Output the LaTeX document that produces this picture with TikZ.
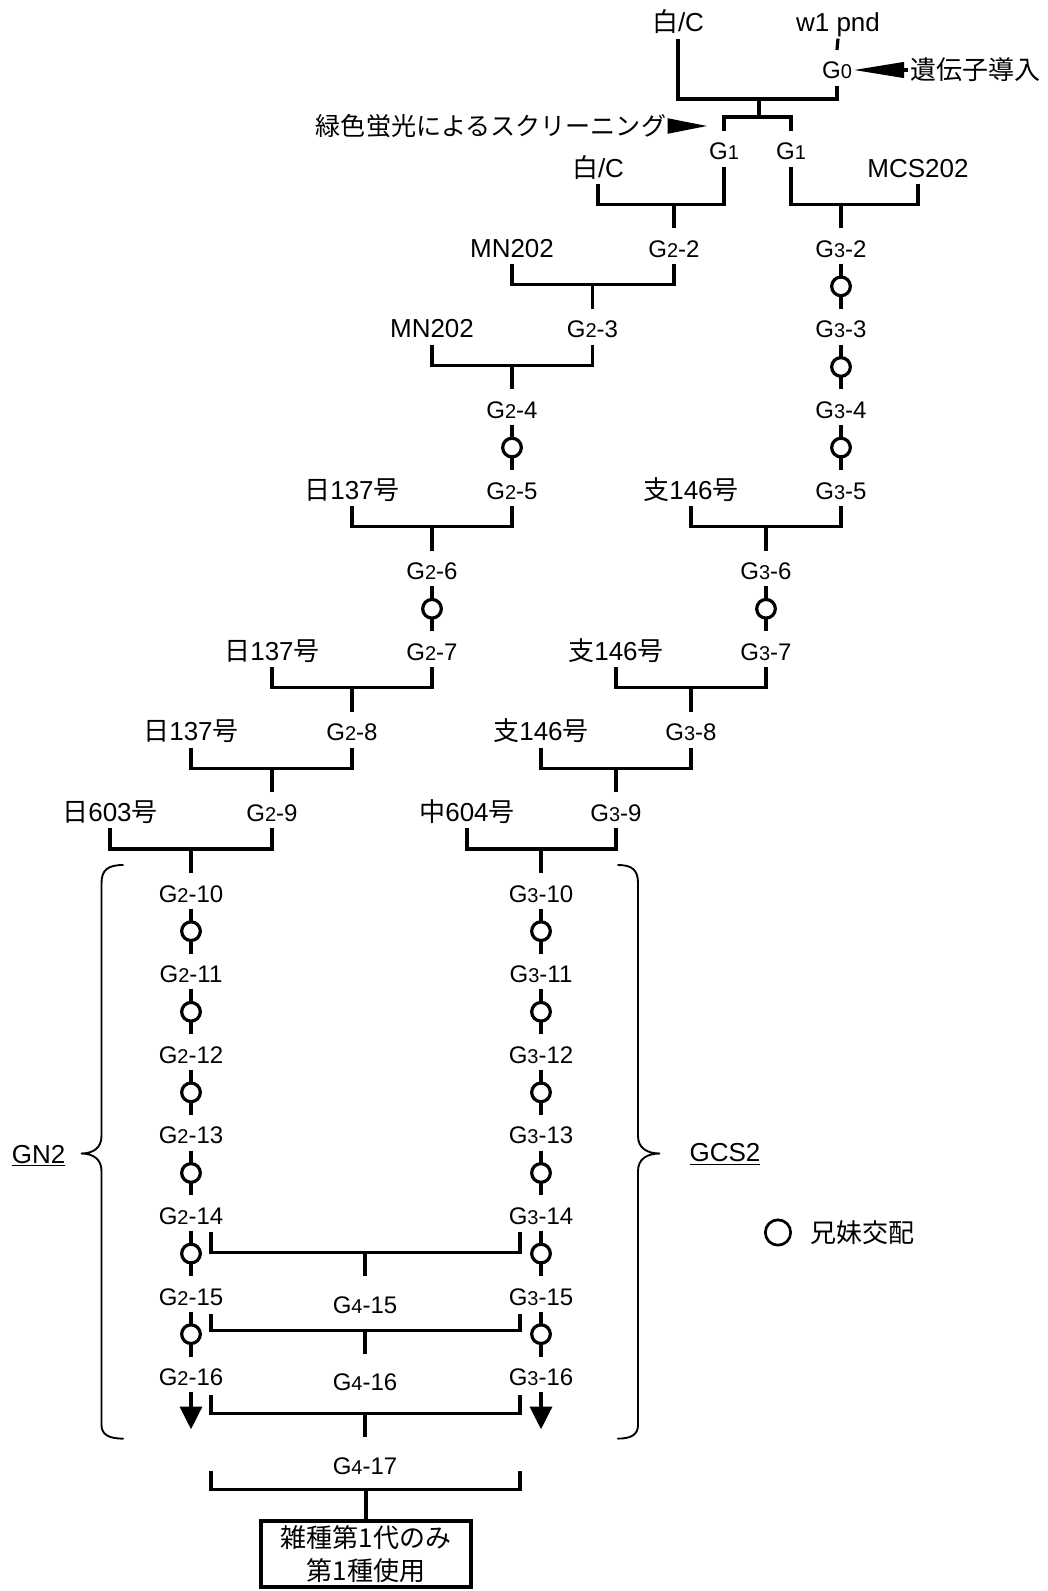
\documentclass[tikz,border=0pt]{standalone}
\usepackage{fontspec}
\setmainfont{Liberation Sans}
\newfontfamily\jp{Noto Sans CJK JP}
\usetikzlibrary{arrows.meta}

% G with the small generation digit
\newcommand{\gtag}[2]{G{\fontsize{15}{18}\selectfont #1}#2}
% parent x generation -> child
\newcommand{\mate}[3]{%
  \draw (#3.north) -- ++(0,-24) coordinate (j#3);
  \draw (#1.south) |- (j#3) -| (#2.south);}

\tikzset{
  lbl/.style={anchor=base, inner sep=0pt, text height=20.6pt, text depth=3.75pt,
    font=\fontsize{19.5}{24}\selectfont},
  gen/.style={lbl, font=\fontsize{18}{22}\selectfont},
  gfour/.style={gen, text height=26.25pt},
  jptext/.style={inner sep=0pt, font=\jp\fontsize{19.5}{24.75}\selectfont},
  sib/.style={circle, draw, fill=white, inner sep=0pt, minimum size=14pt},
  brace/.style={line width=1.4pt, line cap=round},
}

\begin{document}
\begin{tikzpicture}[x=0.75pt, y=-0.75pt, line width=2.4pt]
\useasboundingbox (0,0) rectangle (1047,1591);

% Gene transfer and screening
\node[lbl] (wc1) at (678,32) {{\jp 白}/C};
\node[lbl] (w1) at (838,32) {w1 pnd};
\node[gen] (g0) at (837,79) {\gtag{0}{}};
\node[jptext] (dn) at (975,70) {遺伝子導入};
\node[jptext, font=\jp\fontsize{18.8}{24}\selectfont] (scr) at (491,126) {緑色蛍光によるスクリーニング};
\node[gen] (g1a) at (724,160) {\gtag{1}{}};
\node[gen] (g1b) at (791,160) {\gtag{1}{}};
\coordinate (j0) at (759,99);
\coordinate (j1) at (759,117);
\draw (w1.south) -- (g0.north);
\draw (wc1.south) |- (j0) -| (g0.south);
\draw (j0) -- (j1);
\draw (g1a.north) |- (j1) -| (g1b.north);
\draw[-{Triangle[length=38pt,width=11.5pt]}] (dn.west) -- (dn.west -| g0.east);
\draw[-{Triangle[length=30pt,width=11pt]}] ([xshift=2pt]scr.east) -- (scr.east -| g1a.west);

% Backcross parents, GN2 side
\node[lbl] (wc2) at (598,177) {{\jp 白}/C};
\node[lbl] (mn1) at (512,257.3) {MN202};
\node[lbl] (mn2) at (432,337.9) {MN202};
\node[lbl] (ni1) at (352,499.1) {{\jp 日}137{\jp 号}};
\node[lbl] (ni2) at (272,660.3) {{\jp 日}137{\jp 号}};
\node[lbl] (ni3) at (191,740.9) {{\jp 日}137{\jp 号}};
\node[lbl] (ni4) at (110,821.5) {{\jp 日}603{\jp 号}};
% Backcross parents, GCS2 side
\node[lbl] (mcs) at (918,177) {MCS202};
\node[lbl] (si1) at (691,499.1) {{\jp 支}146{\jp 号}};
\node[lbl] (si2) at (616,660.3) {{\jp 支}146{\jp 号}};
\node[lbl] (si3) at (541,740.9) {{\jp 支}146{\jp 号}};
\node[lbl] (ch4) at (467,821.5) {{\jp 中}604{\jp 号}};

% Generations
\foreach \n/\x in {2/674,3/592.5,4/512,5/512,6/432,7/432,8/352,9/272,10/191,11/191,12/191,13/191,14/191,15/191,16/191}
  \node[gen] (g2\n) at (\x,{257.3+80.6*(\n-2)}) {\gtag{2}{-\n}};
\foreach \n/\x in {2/841,3/841,4/841,5/841,6/766,7/766,8/691,9/616,10/541,11/541,12/541,13/541,14/541,15/541,16/541}
  \node[gen] (g3\n) at (\x,{257.3+80.6*(\n-2)}) {\gtag{3}{-\n}};
\node[gfour] (g415) at (365,1313) {\gtag{4}{-15}};
\node[gfour] (g416) at (365,1390.7) {\gtag{4}{-16}};
\node[gfour] (g417) at (365,1474) {\gtag{4}{-17}};
\node[draw, line width=3pt, minimum width=158pt, minimum height=50pt, align=center,
  font=\jp\fontsize{19.5}{24.75}\selectfont, inner sep=0pt] (f1) at (366,1554) {雑種第1代のみ\\第1種使用};

% Crosses
\mate{wc2}{g1a}{g22}
\mate{mcs}{g1b}{g32}
\mate{mn1}{g22}{g23}
\mate{mn2}{g23}{g24}
\mate{ni1}{g25}{g26}
\mate{ni2}{g27}{g28}
\mate{ni3}{g28}{g29}
\mate{ni4}{g29}{g210}
\mate{si1}{g35}{g36}
\mate{si2}{g37}{g38}
\mate{si3}{g38}{g39}
\mate{ch4}{g39}{g310}

% Sib mating
\foreach \a/\b in {4/5,6/7,10/11,11/12,12/13,13/14,14/15,15/16}
  \draw (g2\a.south) -- node[sib] (s2\a) {} (g2\b.north);
\foreach \a/\b in {2/3,3/4,4/5,6/7,10/11,11/12,12/13,13/14,14/15,15/16}
  \draw (g3\a.south) -- node[sib] (s3\a) {} (g3\b.north);
\coordinate (e2) at (191,1429.3);
\coordinate (e3) at (541,1429.3);
\draw[-{Triangle[length=17pt,width=16.5pt]}] (g216.south) -- (e2);
\draw[-{Triangle[length=17pt,width=16.5pt]}] (g316.south) -- (e3);

% GN2 x GCS2
\foreach \t/\y/\d in {g415/1231.7/24, g416/1314.3/24, g417/1395/24, f1/1470.7/29} {
  \coordinate (a\t) at (211,\y);
  \coordinate (b\t) at (520,\y);
  \draw (\t.north) -- ++(0,-\d) coordinate (k\t);
  \draw (a\t) |- (k\t) -| (b\t);
}

% Braces
\draw[brace] (123,865) .. controls (108,865) and (101.5,870) .. (101.5,883) -- (101.5,1136)
  .. controls (101.5,1148) and (93,1153.5) .. (81,1153.5)
  .. controls (93,1153.5) and (101.5,1159) .. (101.5,1171) -- (101.5,1425)
  .. controls (101.5,1434) and (108,1438.6) .. (123,1438.6);
\draw[brace] (618,865) .. controls (632,865) and (638,870) .. (638,883) -- (638,1136)
  .. controls (638,1148) and (647,1153.5) .. (660,1153.5)
  .. controls (647,1153.5) and (638,1159) .. (638,1171) -- (638,1425)
  .. controls (638,1434) and (632,1438.6) .. (618,1438.6);
\node[lbl] (gn2) at (38.6,1163.5) {\underline{GN2}};
\node[lbl] (gcs2) at (725,1161.7) {\underline{GCS2}};

% Legend
\node[circle, draw, line width=2pt, minimum size=19pt] (lg) at (778,1232.5) {};
\node[jptext] (lgt) at (862,1233) {兄妹交配};
\end{tikzpicture}
\end{document}
